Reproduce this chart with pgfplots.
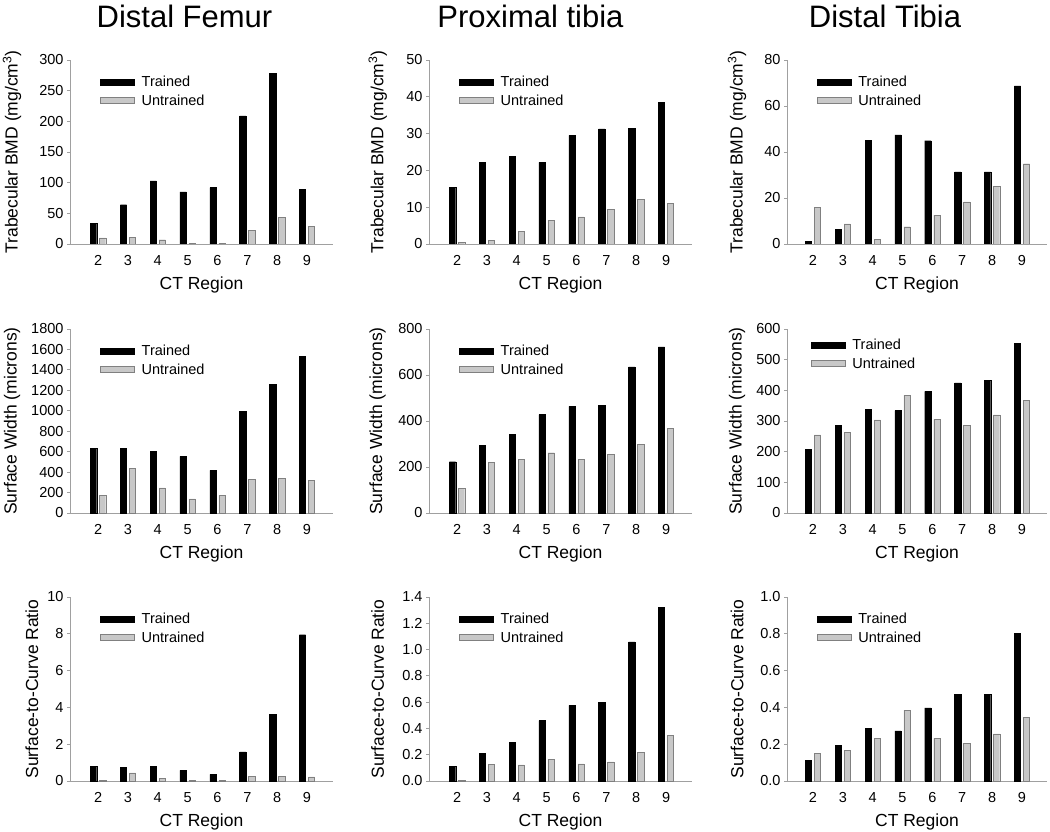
\documentclass[border=0pt]{standalone}
\usepackage{pgfplots}
\pgfplotsset{compat=1.18}
\usepackage{pgfplotstable}
\usepackage{fontspec}
\setmainfont{Liberation Sans}

\definecolor{barG}{HTML}{C8C8C8}
\definecolor{barGe}{HTML}{808080}
\definecolor{axG}{HTML}{A0A0A0}

% Distal femur
\pgfplotstableread{
x t u
2 34 10
3 64 11
4 103 7
5 85 1
6 92 1.5
7 209 22
8 278 43
9 89 29
}\bmdDF
\pgfplotstableread{
x t u
2 15.3 0.4
3 22.2 0.9
4 23.9 3.5
5 22.2 6.4
6 29.5 7.4
7 31.25 9.5
8 31.4 12.1
9 38.5 11.0
}\bmdPT
\pgfplotstableread{
x t u
2 1.0 15.8
3 6.4 8.7
4 45.2 1.9
5 47.4 7.5
6 44.9 12.5
7 31.4 18.3
8 31.4 25.1
9 68.7 34.9
}\bmdDT
\pgfplotstableread{
x t u
2 633 173
3 633 434
4 600 245
5 554 137
6 417 173
7 991 326
8 1259 336
9 1532 316
}\swDF
\pgfplotstableread{
x t u
2 223 106
3 294 220
4 342 232
5 428 262
6 464 233
7 467 254
8 635 300
9 722 368
}\swPT
\pgfplotstableread{
x t u
2 208 255
3 285 262
4 337 304
5 334 384
6 397 305
7 424 286
8 432 320
9 553 368
}\swDT
\pgfplotstableread{
x t u
2 0.78 0.05
3 0.73 0.44
4 0.78 0.15
5 0.58 0.04
6 0.36 0.04
7 1.58 0.24
8 3.61 0.24
9 7.95 0.22
}\scDF
\pgfplotstableread{
x t u
2 0.112 0.005
3 0.212 0.125
4 0.296 0.123
5 0.460 0.166
6 0.575 0.130
7 0.600 0.146
8 1.058 0.220
9 1.323 0.345
}\scPT
\pgfplotstableread{
x t u
2 0.111 0.152
3 0.194 0.167
4 0.285 0.230
5 0.272 0.385
6 0.397 0.232
7 0.472 0.203
8 0.472 0.256
9 0.802 0.345
}\scDT

\pgfplotsset{
 panel/.style={
  scale only axis, width=263pt, height=184pt,
  ybar, bar width=6.3pt,
  axis x line=bottom, axis y line=left,
  axis line style={-, draw=axG, line width=0.8pt},
  xmin=1.06, xmax=9.87, xtick={2,3,...,9},
  xtick style={draw=none},
  ytick style={draw=axG, line width=0.8pt},
  tick align=outside, major tick length=3pt,
  ymin=0, scaled y ticks=false,
  ticklabel style={font=\fontsize{14.5}{17}\selectfont},
  /pgf/number format/assume math mode=true,
  /pgf/number format/1000 sep={},
  xticklabel style={yshift=-5pt},
  xlabel={CT Region},
  xlabel style={font=\fontsize{17.5}{20}\selectfont, at={(axis description cs:0.5,0)}, anchor=center, yshift=-41pt},
  ylabel style={font=\fontsize{17.5}{20}\selectfont, anchor=center},
  legend style={draw=none, fill=none, at={(axis description cs:0.103,0.935)}, anchor=north west, font=\fontsize{14.5}{17}\selectfont, row sep=2.5pt, column sep=5pt},
  legend cell align=left,
  legend image code/.code={\draw[##1] (0pt,-3pt) rectangle (34pt,3pt);},
  title style={font=\fontsize{31}{36}\selectfont, anchor=center, at={(axis description cs:0.5,1)}, yshift=38pt},
 },
 col3/.style={width=260pt, xmin=1.13, xmax=9.84},
 tr/.style={fill=black, draw=black, bar shift=-4.5pt},
 un/.style={fill=barG, draw=barGe, bar shift=4.5pt},
 dec1/.style={yticklabel style={/pgf/number format/.cd, fixed, fixed zerofill, precision=1}},
}

\begin{document}
\begin{tikzpicture}
\useasboundingbox (0,0) rectangle (1050pt,831pt);

% ---------- Row 1 ----------
\begin{axis}[panel, at={(70pt,587pt)}, anchor=south west,
  ymax=300, ytick={0,50,...,300},
  ylabel={Trabecular BMD (mg/cm\textsuperscript{3})},
  ylabel style={at={(axis description cs:-0.22,0.5)}},
  title={Distal Femur}, title style={xshift=-17pt}]
\addplot[tr] table[x=x,y=t]{\bmdDF};
\addplot[un] table[x=x,y=u]{\bmdDF};
\legend{Trained,Untrained}
\end{axis}

\begin{axis}[panel, at={(429pt,587pt)}, anchor=south west,
  ymax=50, ytick={0,10,...,50},
  ylabel={Trabecular BMD (mg/cm\textsuperscript{3})},
  ylabel style={at={(axis description cs:-0.195,0.5)}},
  title={Proximal tibia}, title style={xshift=-30pt}]
\addplot[tr] table[x=x,y=t]{\bmdPT};
\addplot[un] table[x=x,y=u]{\bmdPT};
\legend{Trained,Untrained}
\end{axis}

\begin{axis}[panel, col3, at={(787pt,587pt)}, anchor=south west,
  ymax=80, ytick={0,20,...,80},
  ylabel={Trabecular BMD (mg/cm\textsuperscript{3})},
  ylabel style={at={(axis description cs:-0.192,0.5)}},
  title={Distal Tibia}, title style={xshift=-32pt}]
\addplot[tr] table[x=x,y=t]{\bmdDT};
\addplot[un] table[x=x,y=u]{\bmdDT};
\legend{Trained,Untrained}
\end{axis}

% ---------- Row 2 ----------
\begin{axis}[panel, at={(70pt,318pt)}, anchor=south west,
  ymax=1800, ytick={0,200,...,1800},
  ylabel={Surface Width (microns)},
  ylabel style={at={(axis description cs:-0.22,0.5)}}]
\addplot[tr] table[x=x,y=t]{\swDF};
\addplot[un] table[x=x,y=u]{\swDF};
\legend{Trained,Untrained}
\end{axis}

\begin{axis}[panel, at={(429pt,318pt)}, anchor=south west,
  ymax=800, ytick={0,200,...,800},
  ylabel={Surface Width (microns)},
  ylabel style={at={(axis description cs:-0.195,0.5)}}]
\addplot[tr] table[x=x,y=t]{\swPT};
\addplot[un] table[x=x,y=u]{\swPT};
\legend{Trained,Untrained}
\end{axis}

\begin{axis}[panel, col3, at={(787pt,318pt)}, anchor=south west,
  ymax=600, ytick={0,100,...,600},
  ylabel={Surface Width (microns)},
  ylabel style={at={(axis description cs:-0.192,0.5)}},
  legend style={at={(axis description cs:0.08,0.968)}}]
\addplot[tr] table[x=x,y=t]{\swDT};
\addplot[un] table[x=x,y=u]{\swDT};
\legend{Trained,Untrained}
\end{axis}

% ---------- Row 3 ----------
\begin{axis}[panel, at={(70pt,50pt)}, anchor=south west,
  ymax=10, ytick={0,2,...,10},
  ylabel={Surface-to-Curve Ratio},
  ylabel style={at={(axis description cs:-0.145,0.5)}}]
\addplot[tr] table[x=x,y=t]{\scDF};
\addplot[un] table[x=x,y=u]{\scDF};
\legend{Trained,Untrained}
\end{axis}

\begin{axis}[panel, dec1, at={(429pt,50pt)}, anchor=south west,
  ymax=1.4, ytick={0,0.2,0.4,0.6,0.8,1.0,1.2,1.4},
  ylabel={Surface-to-Curve Ratio},
  ylabel style={at={(axis description cs:-0.195,0.5)}}]
\addplot[tr] table[x=x,y=t]{\scPT};
\addplot[un] table[x=x,y=u]{\scPT};
\legend{Trained,Untrained}
\end{axis}

\begin{axis}[panel, col3, dec1, at={(787pt,50pt)}, anchor=south west,
  ymax=1.0, ytick={0,0.2,0.4,0.6,0.8,1.0},
  ylabel={Surface-to-Curve Ratio},
  ylabel style={at={(axis description cs:-0.192,0.5)}}]
\addplot[tr] table[x=x,y=t]{\scDT};
\addplot[un] table[x=x,y=u]{\scDT};
\legend{Trained,Untrained}
\end{axis}
\end{tikzpicture}
\end{document}
